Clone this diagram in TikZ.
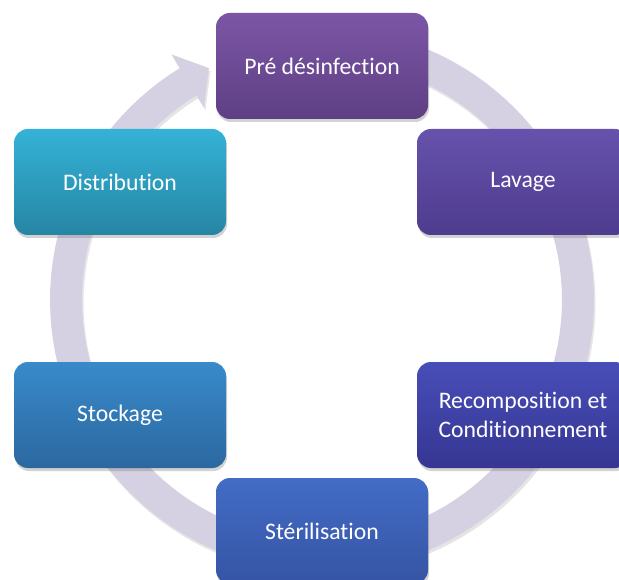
\documentclass[tikz,border=0pt]{standalone}
\usepackage{fontspec}
\setmainfont{Carlito}[Ligatures={NoCommon,NoContextual}]
\usetikzlibrary{shadows}
\definecolor{ringc}{RGB}{213,209,226}
\definecolor{c1t}{RGB}{124,86,166}\definecolor{c1b}{RGB}{94,63,132}
\definecolor{c2t}{RGB}{102,82,172}\definecolor{c2b}{RGB}{78,60,142}
\definecolor{c3t}{RGB}{72,78,184}\definecolor{c3b}{RGB}{54,54,146}
\definecolor{c4t}{RGB}{66,108,198}\definecolor{c4b}{RGB}{54,84,164}
\definecolor{c5t}{RGB}{56,138,202}\definecolor{c5b}{RGB}{44,104,160}
\definecolor{c6t}{RGB}{52,178,214}\definecolor{c6b}{RGB}{38,134,164}
\newcommand\myringpath{
  plot[domain=-80:238.5,samples=120] ({322+272*cos(\x)},{300+272*sin(\x)})
  -- ({322+288*cos(238.5)},{300+288*sin(238.5)})
  -- ({322+258*cos(244)},{300+258*sin(244)})
  -- ({322+226*cos(238.5)},{300+226*sin(238.5)})
  -- plot[domain=238.5:-80,samples=120] ({322+240*cos(\x)},{300+240*sin(\x)})
  -- cycle}
\begin{document}
\begin{tikzpicture}[x=1pt,y=-1pt,
  stepbox/.style={rounded corners=14pt, minimum width=212pt, minimum height=106pt,
    text=white, align=center, inner sep=0pt,
    font=\fontsize{23.7}{28.5}\selectfont,
    drop shadow={opacity=0.35, shadow xshift=1pt, shadow yshift=-3pt}}]
\clip (0,0) rectangle (619,580);
\fill[white] (0,0) rectangle (619,580);
\begin{scope}[shift={(1.5,3)}]
  \fill[black, opacity=0.10] \myringpath;
\end{scope}
\fill[ringc] \myringpath;
\node[stepbox, top color=c1t, bottom color=c1b] (pre) at (322,66) {Pré désinfection};
\node[stepbox, top color=c2t, bottom color=c2b] (lav) at (523,182) {Lavage};
\node[stepbox, top color=c3t, bottom color=c3b] (rec) at (523,415) {Recomposition et\\Conditionnement};
\node[stepbox, top color=c4t, bottom color=c4b] (ster) at (322,531) {Stérilisation};
\node[stepbox, top color=c5t, bottom color=c5b] (stock) at (120,415) {Stockage};
\node[stepbox, top color=c6t, bottom color=c6b] (dist) at (120,182) {Distribution};
\end{tikzpicture}
\end{document}
